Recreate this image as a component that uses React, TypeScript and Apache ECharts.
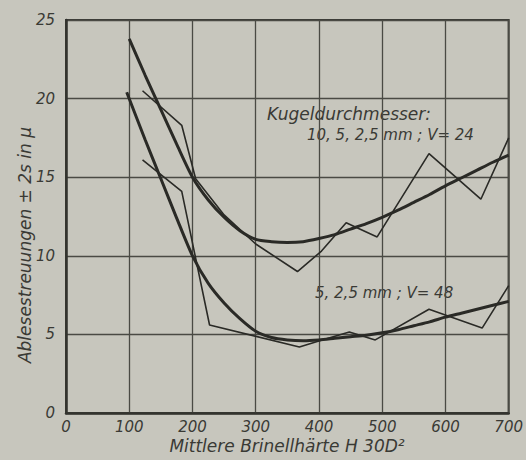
import React, { useEffect, useRef } from "react";
import * as echarts from "echarts";

// x tick values (Mittlere Brinellhärte) and y tick values
const xTicks = [0, 100, 200, 300, 400, 500, 600, 700];
const yTicks = [0, 5, 10, 15, 20, 25];

// Kugeldurchmesser 10, 5, 2,5 mm ; V = 24 — measured (jagged)
const upperRawX = [121, 183, 205, 250, 300, 366, 404, 443, 492, 574, 656, 700];
const upperRawY = [20.5, 18.3, 14.9, 12.6, 10.75, 9.0, 10.3, 12.1, 11.2, 16.5, 13.6, 17.5];

// V = 24 — fitted curve (read every 25 units)
const upperFitX = [100, 125, 150, 175, 200, 225, 250, 275, 300, 325, 350, 375, 400, 425, 450, 475, 500, 525, 550, 575, 600, 625, 650, 675, 700];
const upperFitY = [23.8, 21.5, 19.3, 17.1, 15.0, 13.55, 12.45, 11.6, 11.05, 10.9, 10.85, 10.9, 11.1, 11.35, 11.7, 12.05, 12.45, 12.9, 13.4, 13.9, 14.45, 14.95, 15.45, 15.95, 16.4];

// 5, 2,5 mm ; V = 48 — measured (jagged)
const lowerRawX = [121, 183, 227, 369, 405, 448, 489, 574, 658, 700];
const lowerRawY = [16.1, 14.1, 5.6, 4.2, 4.65, 5.15, 4.65, 6.6, 5.4, 8.1];

// V = 48 — fitted curve (read every 25 units)
const lowerFitX = [96, 125, 150, 175, 200, 225, 250, 275, 300, 325, 350, 375, 400, 425, 450, 475, 500, 525, 550, 575, 600, 625, 650, 675, 700];
const lowerFitY = [20.4, 17.4, 14.9, 12.4, 10.0, 8.25, 7.0, 6.0, 5.2, 4.8, 4.65, 4.6, 4.65, 4.75, 4.85, 4.95, 5.1, 5.3, 5.55, 5.8, 6.1, 6.35, 6.6, 6.85, 7.1];

const pair = (xs: number[], ys: number[]) => xs.map((x, i) => [x, ys[i]]);

const INK = "#2a2a26";
const TXT = "#3a3a35";
const BG = "#c7c6bd";
const FONT = "'DejaVu Sans', sans-serif";

export default function App() {
  const ref = useRef<HTMLDivElement>(null);
  useEffect(() => {
    if (!ref.current) return;
    const chart = echarts.init(ref.current, null, { renderer: "svg" });
    const lab = { fontFamily: FONT, fontStyle: "italic", color: TXT, fontSize: 15 };
    chart.setOption({
      animation: false,
      backgroundColor: BG,
      grid: {
        left: 66,
        right: 16,
        top: 20,
        bottom: 47,
        show: true,
        borderColor: "#3a3a35",
        borderWidth: 2,
      },
      xAxis: {
        type: "value",
        min: xTicks[0],
        max: xTicks[xTicks.length - 1],
        interval: 100,
        axisLine: { show: true, lineStyle: { color: "#33332e", width: 2.5 } },
        axisTick: { show: false },
        splitLine: { show: true, lineStyle: { color: "#4a4a44", width: 1.3 } },
        axisLabel: { ...lab, margin: 6 },
      },
      yAxis: {
        type: "value",
        min: yTicks[0],
        max: yTicks[yTicks.length - 1],
        interval: 5,
        axisLine: { show: true, lineStyle: { color: "#33332e", width: 2.5 } },
        axisTick: { show: false },
        splitLine: { show: true, lineStyle: { color: "#4a4a44", width: 1.3 } },
        axisLabel: { ...lab, margin: 11 },
      },
      graphic: [
        {
          type: "text",
          x: 267,
          y: 114,
          style: { text: "Kugeldurchmesser:", font: `italic 17px ${FONT}`, fill: TXT, verticalAlign: "middle" },
        },
        {
          type: "text",
          x: 307,
          y: 135,
          style: { text: "10, 5, 2,5 mm ; V= 24", font: `italic 15px ${FONT}`, fill: TXT, verticalAlign: "middle" },
        },
        {
          type: "text",
          x: 315,
          y: 293,
          style: { text: "5, 2,5 mm ; V= 48", font: `italic 15px ${FONT}`, fill: TXT, verticalAlign: "middle" },
        },
        {
          type: "text",
          x: 287,
          y: 446,
          style: {
            text: "Mittlere Brinellhärte H 30D²",
            font: `italic 17px ${FONT}`,
            fill: TXT,
            align: "center",
            verticalAlign: "middle",
          },
        },
        {
          type: "text",
          x: 25,
          y: 245,
          rotation: Math.PI / 2,
          style: {
            text: "Ablesestreuungen ± 2s in μ",
            font: `italic 17px ${FONT}`,
            fill: TXT,
            align: "center",
            verticalAlign: "middle",
          },
        },
      ],
      series: [
        {
          type: "line",
          data: pair(upperRawX, upperRawY),
          showSymbol: false,
          lineStyle: { color: INK, width: 1.6 },
        },
        {
          type: "line",
          data: pair(upperFitX, upperFitY),
          smooth: 0.25,
          showSymbol: false,
          lineStyle: { color: INK, width: 3 },
        },
        {
          type: "line",
          data: pair(lowerRawX, lowerRawY),
          showSymbol: false,
          lineStyle: { color: INK, width: 1.6 },
        },
        {
          type: "line",
          data: pair(lowerFitX, lowerFitY),
          smooth: 0.25,
          showSymbol: false,
          lineStyle: { color: INK, width: 3 },
        },
      ],
    });
    return () => chart.dispose();
  }, []);
  return (
    <div
      ref={ref}
      style={{ position: "fixed", left: 0, top: 0, width: 526, height: 460, background: BG }}
    />
  );
}
